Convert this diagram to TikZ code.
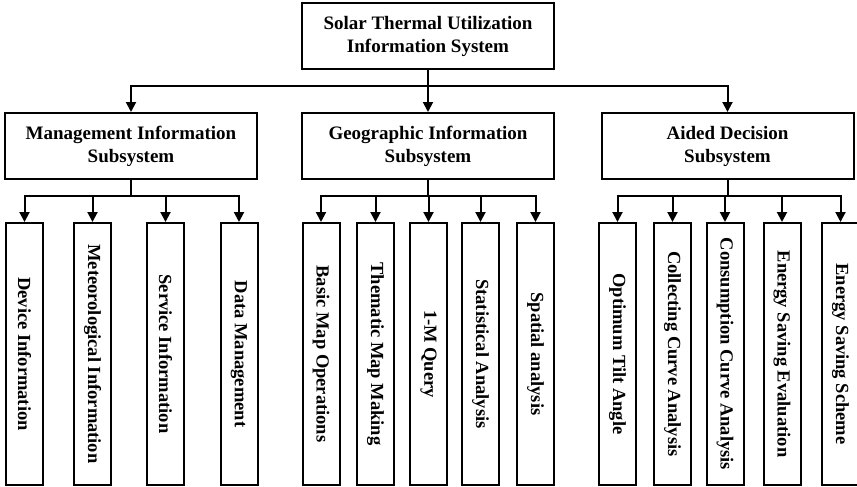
\documentclass[tikz,border=0pt]{standalone}
\usepackage{fontspec}
\setmainfont{Liberation Serif}
\usetikzlibrary{arrows.meta}

\begin{document}
\begin{tikzpicture}[x=1pt, y=-1pt, >={Triangle[length=10pt,width=10pt]}, line width=2pt,
  sysbox/.style={draw, line width=2pt, minimum width=252, minimum height=66, inner sep=0pt,
    align=center, font=\bfseries\fontsize{19}{23}\selectfont},
  leafbox/.style={draw, line width=2pt, minimum width=262, minimum height=37, inner sep=0pt,
    rotate=-90, font=\bfseries\fontsize{18.5}{22}\selectfont}]

\useasboundingbox (0,0) rectangle (857,487);

% top level
\node[sysbox] (top) at (428,36) {Solar Thermal Utilization\\Information System};
\coordinate (bus) at (428,86);

% subsystems
\node[sysbox] (mis) at (131,146) {Management Information\\Subsystem};
\node[sysbox] (gis) at (428,146) {Geographic Information\\Subsystem};
\node[sysbox] (ads) at (727.5,146) {Aided Decision\\Subsystem};
\coordinate (mbus) at (131,196);
\coordinate (gbus) at (428,196);
\coordinate (abus) at (727.5,196);

% management leaves
\node[leafbox] (m1) at (24.5,354) {Device Information};
\node[leafbox] (m2) at (92.5,354) {Meteorological Information};
\node[leafbox] (m3) at (165.5,354) {Service Information};
\node[leafbox] (m4) at (239,354) {Data Management};

% geographic leaves
\node[leafbox] (g1) at (321,354) {Basic Map Operations};
\node[leafbox] (g2) at (375.5,354) {Thematic Map Making};
\node[leafbox] (g3) at (428.5,354) {1-M Query};
\node[leafbox] (g4) at (480.5,354) {Statistical Analysis};
\node[leafbox] (g5) at (535.5,354) {Spatial analysis};

% aided decision leaves
\node[leafbox] (a1) at (617.5,354) {Optimum Tilt Angle};
\node[leafbox] (a2) at (672.5,354) {Collecting Curve Analysis};
\node[leafbox] (a3) at (725,354) {Consumption Curve Analysis};
\node[leafbox] (a4) at (782,354) {Energy Saving Evaluation};
\node[leafbox] (a5) at (840.5,354) {Energy Saving Scheme};

% connectors
\draw (top) -- (bus);
\draw[->] (bus) -| (mis);
\draw[->] (bus) -- (gis);
\draw[->] (bus) -| (ads);

\draw (mis) -- (mbus);
\draw[->] (mbus) -| (m1);
\draw[->] (mbus) -| (m2);
\draw[->] (mbus) -| (m3);
\draw[->] (mbus) -| (m4);

\draw (gis) -- (gbus);
\draw[->] (gbus) -| (g1);
\draw[->] (gbus) -| (g2);
\draw[->] (gbus) -| (g3);
\draw[->] (gbus) -| (g4);
\draw[->] (gbus) -| (g5);

\draw (ads) -- (abus);
\draw[->] (abus) -| (a1);
\draw[->] (abus) -| (a2);
\draw[->] (abus) -| (a3);
\draw[->] (abus) -| (a4);
\draw[->] (abus) -| (a5);

\end{tikzpicture}
\end{document}
